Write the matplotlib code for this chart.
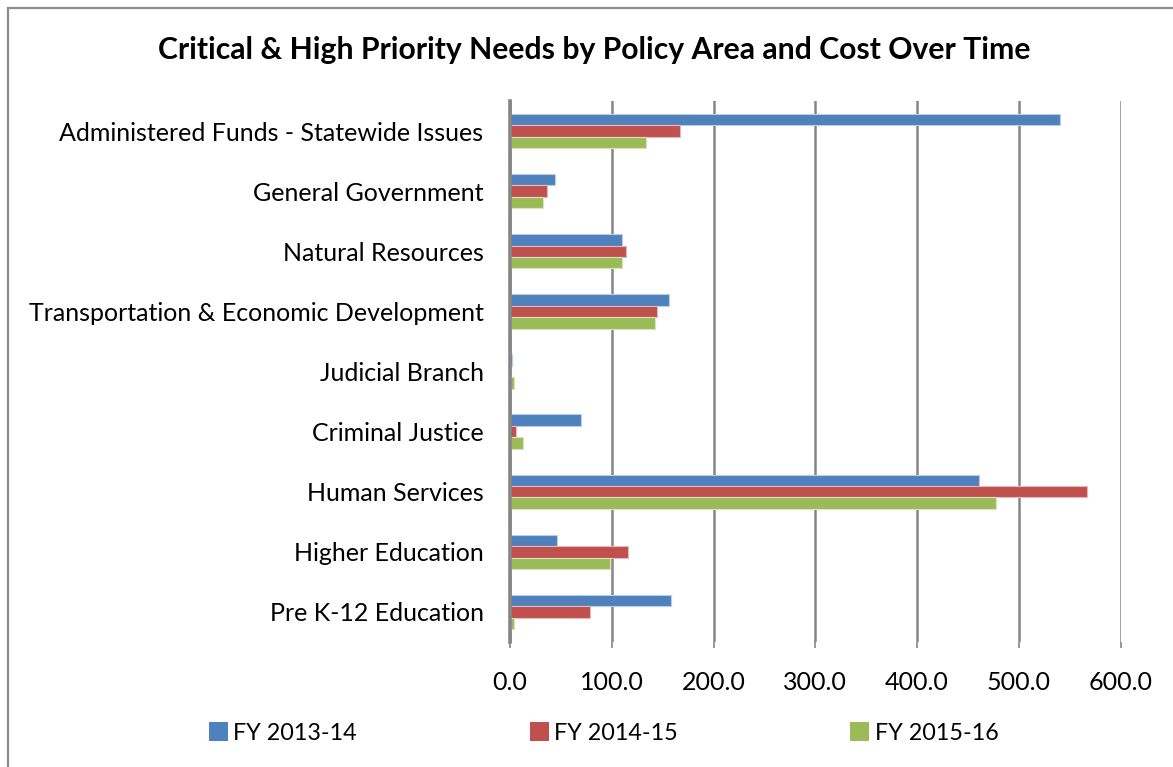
import matplotlib
matplotlib.use("Agg")
import matplotlib.pyplot as plt
import numpy as np
from matplotlib.patches import Rectangle

categories = [
    "Administered Funds - Statewide Issues",
    "General Government",
    "Natural Resources",
    "Transportation & Economic Development",
    "Judicial Branch",
    "Criminal Justice",
    "Human Services",
    "Higher Education",
    "Pre K-12 Education",
]
fy_2013_14 = [541.0, 44.4, 110.3, 156.5, 2.0, 70.2, 461.2, 46.4, 158.5]
fy_2014_15 = [166.7, 36.3, 114.2, 144.4, 1.0, 6.0, 567.4, 116.4, 78.4]
fy_2015_16 = [134.0, 32.0, 110.3, 142.5, 4.0, 12.4, 477.2, 98.7, 4.0]
series_names = ["FY 2013-14", "FY 2014-15", "FY 2015-16"]
x_ticks = [0, 100, 200, 300, 400, 500, 600]
title = "Critical & High Priority Needs by Policy Area and Cost Over Time"

colors = ["#4F81BD", "#C0504D", "#9BBB59"]
edges = ["#B9CDE5", "#E6B9B8", "#D7E4BD"]

plt.rcParams['font.family'] = ['Lato', 'DejaVu Sans']

W, H = 1173, 767
fig = plt.figure(figsize=(W / 100, H / 100), dpi=100)
fig.patch.set_facecolor("white")

# outer chart border (left and top visible)
fig.add_artist(Rectangle((8 / W, -0.5), 2.0, 1.5 - 8 / H, transform=fig.transFigure,
                         fill=False, edgecolor="#8C8C8C", linewidth=1.6))

ax = fig.add_axes([510 / W, 1 - 642 / H, (1120.5 - 510) / W, (642 - 101) / H])

y = np.arange(len(categories))
h = 0.19
for i, (vals, name) in enumerate(zip([fy_2013_14, fy_2014_15, fy_2015_16], series_names)):
    ax.barh(y + (i - 1) * h, vals, height=h, color=colors[i], edgecolor=edges[i],
            linewidth=0.8, label=name, zorder=3)

ax.set_ylim(len(categories) - 0.5, -0.5)
ax.set_xlim(0, 600)
ax.set_xticks(x_ticks)
ax.set_xticklabels([f"{v:.1f}" for v in x_ticks], fontsize=18, color="#000000")
ax.set_yticks(y)
ax.set_yticklabels(categories, fontsize=18, color="#000000")
ax.tick_params(axis="y", length=0, pad=19)
ax.tick_params(axis="x", length=4, width=1.2, color="#868686", pad=17, direction="out")
ax.xaxis.grid(True, color="#868686", linewidth=1.8, zorder=0)
for s in ["top", "right", "bottom"]:
    ax.spines[s].set_visible(False)
ax.spines["left"].set_color("#868686")
ax.spines["left"].set_linewidth(2.6)
ax.spines["left"].set_zorder(4)

fig.text(594 / W, 1 - 50 / H, title, ha="center", va="center", fontsize=21.7,
         fontweight="bold", color="#000000")

handles = [Rectangle((0, 0), 1, 1, facecolor=c, edgecolor="none") for c in colors]
fig.legend(handles, series_names, loc="center left", bbox_to_anchor=(209 / W, 1 - 733 / H),
           ncol=3, frameon=False, fontsize=16.8, handlelength=0.82, handleheight=0.82,
           handletextpad=0.22, columnspacing=7.4, borderaxespad=0, borderpad=0)

fig.savefig("out.png", dpi=100, facecolor="white")
